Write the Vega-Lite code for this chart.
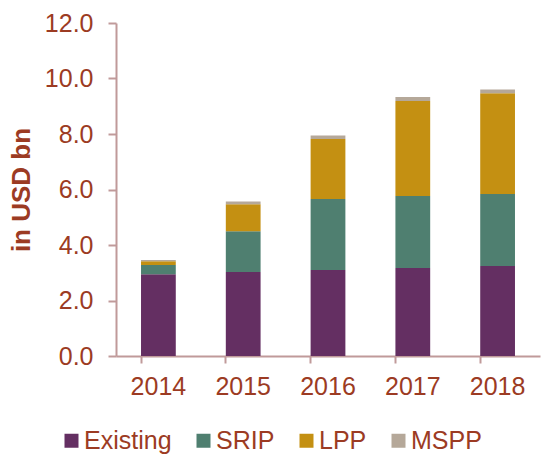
{
  "$schema": "https://vega.github.io/schema/vega-lite/v6.json",
  "autosize": "none",
  "width": 424,
  "height": 333,
  "padding": {"left": 116, "top": 23, "right": 4, "bottom": 100},
  "background": "white",
  "config": {
    "view": {"stroke": null},
    "font": "Liberation Sans",
    "axis": {"grid": false, "domainColor": "#C09A9A", "tickColor": "#C09A9A", "domainWidth": 2, "tickWidth": 2, "labelColor": "#9C3B23", "titleColor": "#9C3B23", "labelFont": "Liberation Sans", "labelFontSize": 25, "titleFont": "Liberation Sans"}
  },
  "data": {
    "values": [
      {"year": "2014", "type": "Existing", "order": 1, "value": 2.95},
      {"year": "2014", "type": "SRIP", "order": 2, "value": 0.33},
      {"year": "2014", "type": "LPP", "order": 3, "value": 0.13},
      {"year": "2014", "type": "MSPP", "order": 4, "value": 0.05},
      {"year": "2015", "type": "Existing", "order": 1, "value": 3.03},
      {"year": "2015", "type": "SRIP", "order": 2, "value": 1.47},
      {"year": "2015", "type": "LPP", "order": 3, "value": 0.97},
      {"year": "2015", "type": "MSPP", "order": 4, "value": 0.10},
      {"year": "2016", "type": "Existing", "order": 1, "value": 3.10},
      {"year": "2016", "type": "SRIP", "order": 2, "value": 2.56},
      {"year": "2016", "type": "LPP", "order": 3, "value": 2.16},
      {"year": "2016", "type": "MSPP", "order": 4, "value": 0.13},
      {"year": "2017", "type": "Existing", "order": 1, "value": 3.17},
      {"year": "2017", "type": "SRIP", "order": 2, "value": 2.60},
      {"year": "2017", "type": "LPP", "order": 3, "value": 3.42},
      {"year": "2017", "type": "MSPP", "order": 4, "value": 0.14},
      {"year": "2018", "type": "Existing", "order": 1, "value": 3.24},
      {"year": "2018", "type": "SRIP", "order": 2, "value": 2.60},
      {"year": "2018", "type": "LPP", "order": 3, "value": 3.63},
      {"year": "2018", "type": "MSPP", "order": 4, "value": 0.13}
    ]
  },
  "mark": {"type": "bar"},
  "encoding": {
    "x": {
      "field": "year", "type": "nominal",
      "scale": {"paddingInner": 0.59, "paddingOuter": 0.295},
      "axis": {"title": null, "labelAngle": 0, "tickSize": 7, "bandPosition": 0, "labelPadding": 11}
    },
    "y": {
      "field": "value", "type": "quantitative", "stack": "zero",
      "scale": {"domain": [0, 12], "nice": false},
      "axis": {"title": "in USD bn", "values": [0, 2, 4, 6, 8, 10, 12], "format": ".1f", "tickSize": 8, "labelPadding": 15, "titleFontSize": 26, "titleFontWeight": "bold", "titlePadding": 10}
    },
    "color": {
      "field": "type", "type": "nominal",
      "scale": {"domain": ["Existing", "SRIP", "LPP", "MSPP"], "range": ["#642F62", "#4F7F70", "#C49012", "#B5A899"]},
      "legend": {"title": null, "orient": "none", "direction": "horizontal", "legendX": -57, "legendY": 405, "symbolType": "square", "symbolSize": 196, "symbolStrokeWidth": 0, "labelFontSize": 25, "labelColor": "#9C3B23", "labelFont": "Liberation Sans", "labelOffset": 0, "columnPadding": 19}
    },
    "order": {"field": "order", "type": "quantitative"}
  }
}
